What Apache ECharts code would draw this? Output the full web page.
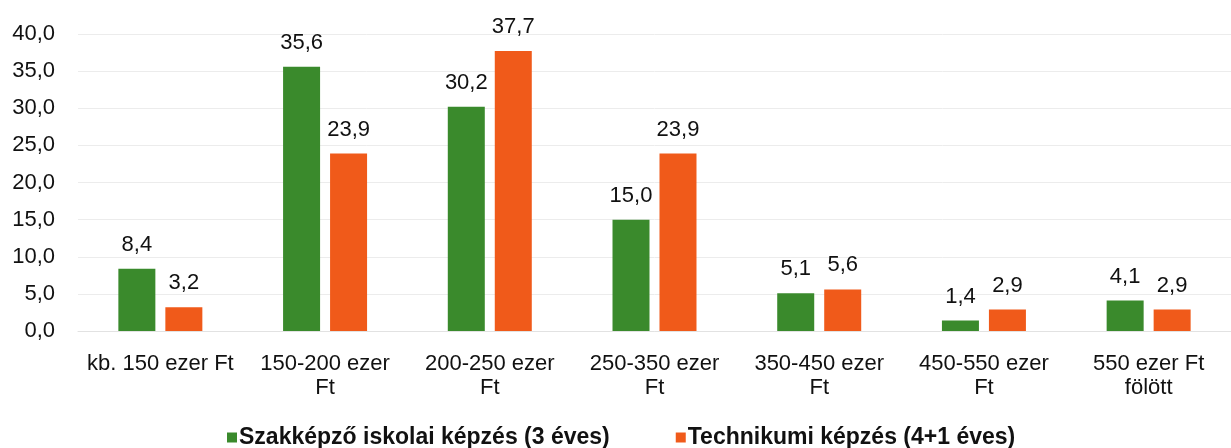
<!DOCTYPE html>
<html>
<head>
<meta charset="utf-8">
<script src="https://cdn.jsdelivr.net/npm/echarts@6/dist/echarts.min.js"></script>
<style>
  html, body { margin: 0; padding: 0; background: #fff; }
  #chart { width: 1231px; height: 448px; }
</style>
</head>
<body>
<div id="chart"></div>
<script>
// adatok
const categories = ['kb. 150 ezer Ft', '150-200 ezer\nFt', '200-250 ezer\nFt', '250-350 ezer\nFt', '350-450 ezer\nFt', '450-550 ezer\nFt', '550 ezer Ft\nfölött']
const szakkepzo = [8.4, 35.6, 30.2, 15.0, 5.1, 1.4, 4.1]
const technikum = [3.2, 23.9, 37.7, 23.9, 5.6, 2.9, 2.9]
const seriesNames = ['Szakképző iskolai képzés (3 éves)', 'Technikumi képzés (4+1 éves)']

const fmt = v => v.toFixed(1).replace('.', ',')

const chart = echarts.init(document.getElementById('chart'))
chart.setOption({
  animation: false,
  textStyle: { fontFamily: 'Liberation Sans, Arial, sans-serif' },
  grid: { left: 78, right: 0, top: 34, bottom: 117 },
  legend: {
    data: seriesNames,
    bottom: -6,
    left: 222,
    itemWidth: 10,
    itemHeight: 10,
    itemGap: 66,
    icon: 'rect',
    textStyle: { fontSize: 23, fontWeight: 'bold', color: '#111', padding: [0, 0, 0, -3] }
  },
  xAxis: {
    type: 'category',
    data: categories,
    axisLine: { show: true, lineStyle: { color: '#e2e2e2', width: 1 } },
    axisTick: { show: false },
    axisLabel: { fontSize: 22, color: '#111', interval: 0, lineHeight: 24, margin: 21 }
  },
  yAxis: {
    type: 'value',
    min: 0,
    max: 40,
    interval: 5,
    axisLine: { show: false },
    axisTick: { show: false },
    splitLine: { lineStyle: { color: '#ececec', width: 1 } },
    axisLabel: { fontSize: 22, color: '#111', margin: 23, formatter: v => fmt(v) }
  },
  series: [
    {
      name: seriesNames[0],
      type: 'bar',
      data: szakkepzo,
      barWidth: 37,
      barGap: '27%',
      itemStyle: { color: '#3a8a2c' },
      label: { show: true, position: 'top', distance: 13, fontSize: 22, color: '#111', formatter: p => fmt(p.value) }
    },
    {
      name: seriesNames[1],
      type: 'bar',
      data: technikum,
      barWidth: 37,
      itemStyle: { color: '#f05a1a' },
      label: { show: true, position: 'top', distance: 13, fontSize: 22, color: '#111', formatter: p => fmt(p.value) }
    }
  ]
})
</script>
</body>
</html>
